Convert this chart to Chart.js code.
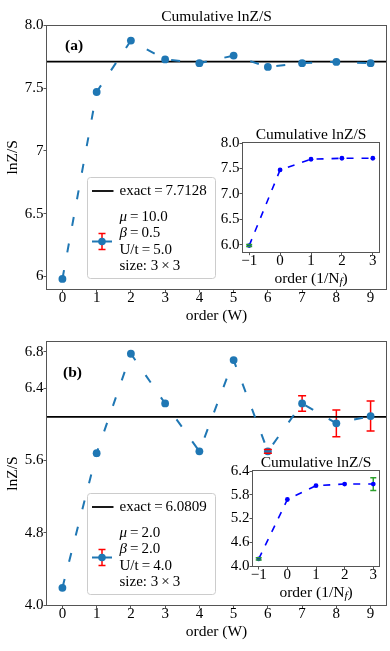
<!DOCTYPE html>
<html>
<head>
<meta charset="utf-8">
<script src="https://cdn.jsdelivr.net/npm/chart.js@4.4.1/dist/chart.umd.min.js"></script>
<style>
  html, body { margin: 0; padding: 0; background: #fff; }
  #wrap { position: relative; width: 390px; height: 651px; overflow: hidden; }
  canvas { position: absolute; }
</style>
</head>
<body>
<div id="wrap">
  <canvas id="mainA" width="390" height="325" style="left:0;top:0"></canvas>
  <canvas id="mainB" width="390" height="326" style="left:0;top:325px"></canvas>
  <canvas id="insetA" width="185" height="170" style="left:205px;top:120px"></canvas>
  <canvas id="insetB" width="180" height="160" style="left:210px;top:445px"></canvas>
</div>
<script>
// ---- data ----
const orders = [0, 1, 2, 3, 4, 5, 6, 7, 8, 9];
const lnzA = [5.98, 7.47, 7.88, 7.73, 7.70, 7.76, 7.67, 7.70, 7.71, 7.70];
const errA = [0, 0, 0, 0, 0, 0, 0, 0, 0, 0];
const exactA = 7.7128;

const lnzB = [4.19, 5.68, 6.78, 6.23, 5.70, 6.71, 5.70, 6.23, 6.01, 6.09];
const errB = [0, 0, 0, 0, 0, 0, 0.02, 0.085, 0.147, 0.166];
const exactB = 6.0809;

const insetOrders = [-1, 0, 1, 2, 3];
const insetA = [5.98, 7.47, 7.68, 7.70, 7.70];
const insetErrA = [0.02, 0, 0, 0, 0];
const insetB = [4.18, 5.68, 6.03, 6.07, 6.07];
const insetErrB = [0.03, 0, 0, 0, 0.16];

// ticks
const xTicksMain = [0, 1, 2, 3, 4, 5, 6, 7, 8, 9];
const yTicksA = [6, 6.5, 7, 7.5, 8];
const yTickLabelsA = ['6', '6.5', '7', '7.5', '8.0'];
const yTicksB = [4.0, 4.8, 5.6, 6.4, 6.8];
const xTicksInset = [-1, 0, 1, 2, 3];
const yTicksInsetA = [6.0, 6.5, 7.0, 7.5, 8.0];
const yTicksInsetB = [4.0, 4.6, 5.2, 5.8, 6.4];

// texts
const plotTitle = 'Cumulative lnZ/S';
const exactLabelA = 'exact\u2009=\u20097.7128';
const paramsA = ['μ\u2009=\u200910.0', 'β\u2009=\u20090.5', 'U/t\u2009=\u20095.0', 'size: 3\u2009×\u20093'];
const exactLabelB = 'exact\u2009=\u20096.0809';
const paramsB = ['μ\u2009=\u20092.0', 'β\u2009=\u20092.0', 'U/t\u2009=\u20094.0', 'size: 3\u2009×\u20093'];

const FONT = "'Liberation Serif', 'Times New Roman', serif";
const blue = '#1f77b4';
const spine = '#555';

function serif(size, style) {
  return (style ? style + ' ' : '') + size + 'px ' + FONT;
}

// ---- plugins ----
function drawErr(chart, caps) {
  const {ctx, scales: {x, y}} = chart;
  chart.data.datasets.forEach(ds => {
    if (!ds.errors) return;
    ctx.save();
    ctx.strokeStyle = ds.errColor;
    ctx.lineWidth = 1.5;
    ds.data.forEach((p, i) => {
      const e = ds.errors[i];
      if (!e) return;
      const px = x.getPixelForValue(p.x);
      const y1 = y.getPixelForValue(p.y + e);
      const y2 = y.getPixelForValue(p.y - e);
      ctx.beginPath();
      if (!caps) {
        ctx.moveTo(px, y1); ctx.lineTo(px, y2);
      } else {
        const h = ds.capHalf;
        ctx.moveTo(px - h, y1); ctx.lineTo(px + h, y1);
        ctx.moveTo(px - h, y2); ctx.lineTo(px + h, y2);
      }
      ctx.stroke();
    });
    ctx.restore();
  });
}

const errorBars = {
  id: 'errorBars',
  beforeDatasetsDraw(chart) { drawErr(chart, false); },
  afterDatasetsDraw(chart) { drawErr(chart, true); }
};

const frame = {
  id: 'frame',
  afterDatasetsDraw(chart) {
    const {ctx, chartArea: a} = chart;
    ctx.save();
    ctx.strokeStyle = spine;
    ctx.lineWidth = 1;
    const l = Math.round(a.left) - 0.5, t = Math.round(a.top) - 0.5;
    ctx.strokeRect(l, t, Math.round(a.right) - Math.round(a.left) + 1, Math.round(a.bottom) - Math.round(a.top) + 1);
    ctx.restore();
  }
};

const whiteBg = {
  id: 'whiteBg',
  beforeDraw(chart) {
    const {ctx, chartArea: a} = chart;
    ctx.save();
    ctx.fillStyle = '#fff';
    ctx.fillRect(a.left, a.top, a.right - a.left, a.bottom - a.top);
    ctx.restore();
  }
};

// title centred over the plot area (matplotlib style)
function areaTitle(text, dy) {
  return {
    id: 'areaTitle',
    afterDraw(chart) {
      const {ctx, chartArea: a} = chart;
      ctx.save();
      ctx.font = serif(15.5);
      ctx.fillStyle = '#000';
      ctx.textAlign = 'center';
      ctx.textBaseline = 'middle';
      ctx.fillText(text, (a.left + a.right) / 2, a.top - dy);
      ctx.restore();
    }
  };
}

function exactLine(value) {
  return {
    id: 'exactLine',
    beforeDatasetsDraw(chart) {
      const {ctx, chartArea: a, scales: {y}} = chart;
      const py = y.getPixelForValue(value);
      ctx.save();
      ctx.strokeStyle = '#000';
      ctx.lineWidth = 1.8;
      ctx.beginPath();
      ctx.moveTo(a.left, py); ctx.lineTo(a.right, py);
      ctx.stroke();
      ctx.restore();
    }
  };
}

function panelLabel(text, dx, dy) {
  return {
    id: 'panelLabel',
    afterDraw(chart) {
      const {ctx, chartArea: a} = chart;
      ctx.save();
      ctx.font = serif(15.5, 'bold');
      ctx.fillStyle = '#000';
      ctx.textBaseline = 'middle';
      ctx.textAlign = 'left';
      ctx.fillText(text, a.left + dx, a.top + dy);
      ctx.restore();
    }
  };
}

function drawMathLine(ctx, line, x, y) {
  let cx = x;
  const first = line[0];
  if (first === 'μ' || first === 'β') {
    ctx.font = serif(15, 'italic');
    ctx.fillText(first, cx, y);
    cx += ctx.measureText(first).width;
    line = line.slice(1);
  }
  ctx.font = serif(15);
  ctx.fillText(line, cx, y);
}

function legendBox(exactText, params) {
  return {
    id: 'legendBox',
    afterDraw(chart) {
      const {ctx, chartArea: a} = chart;
      const bx = a.left + 40.5, by = a.bottom - 111.5, bw = 128, bh = 101;
      ctx.save();
      ctx.beginPath();
      ctx.roundRect(bx, by, bw, bh, 3);
      ctx.fillStyle = 'rgba(255,255,255,0.8)';
      ctx.fill();
      ctx.strokeStyle = '#cccccc';
      ctx.lineWidth = 1;
      ctx.stroke();

      ctx.strokeStyle = '#000';
      ctx.lineWidth = 1.8;
      ctx.beginPath();
      ctx.moveTo(bx + 4.5, by + 13.5); ctx.lineTo(bx + 26, by + 13.5);
      ctx.stroke();

      ctx.fillStyle = '#000';
      ctx.textBaseline = 'middle';
      ctx.textAlign = 'left';
      ctx.font = serif(15);
      ctx.fillText(exactText, bx + 32, by + 13.5);
      params.forEach((line, i) => drawMathLine(ctx, line, bx + 32, by + 39.5 + i * 16.5));

      const mx = bx + 14.5, my = by + 64;
      ctx.strokeStyle = blue;
      ctx.lineWidth = 2;
      ctx.beginPath();
      ctx.moveTo(mx - 10, my); ctx.lineTo(mx + 10, my);
      ctx.stroke();
      ctx.strokeStyle = '#ff0000';
      ctx.lineWidth = 1.5;
      ctx.beginPath();
      ctx.moveTo(mx, my - 8); ctx.lineTo(mx, my + 8);
      ctx.moveTo(mx - 3.5, my - 8); ctx.lineTo(mx + 3.5, my - 8);
      ctx.moveTo(mx - 3.5, my + 8); ctx.lineTo(mx + 3.5, my + 8);
      ctx.stroke();
      ctx.fillStyle = blue;
      ctx.beginPath();
      ctx.arc(mx, my, 3.8, 0, Math.PI * 2);
      ctx.fill();
      ctx.restore();
    }
  };
}

const insetXTitle = {
  id: 'insetXTitle',
  afterDraw(chart) {
    const {ctx, chartArea: a} = chart;
    const parts = [
      {t: 'order (1/N', f: serif(15.5), dy: 0},
      {t: 'f', f: serif(11, 'italic'), dy: 3.5},
      {t: ')', f: serif(15.5), dy: 0}
    ];
    ctx.save();
    let total = 0;
    parts.forEach(p => { ctx.font = p.f; p.w = ctx.measureText(p.t).width; total += p.w; });
    let x = (a.left + a.right) / 2 - total / 2;
    const y = a.bottom + 27;
    ctx.fillStyle = '#000';
    ctx.textBaseline = 'middle';
    ctx.textAlign = 'left';
    parts.forEach(p => { ctx.font = p.f; ctx.fillText(p.t, x, y + p.dy); x += p.w; });
    ctx.restore();
  }
};

// ---- helpers ----
function scaleCfg(o) {
  return {
    type: 'linear',
    bounds: 'data',
    min: o.min,
    max: o.max,
    afterBuildTicks: s => { s.ticks = o.ticks.map(v => ({value: v})); },
    afterFit: s => {
      if (o.width !== undefined) s.width = o.width;
      if (o.height !== undefined) s.height = o.height;
    },
    border: {display: false},
    grid: {drawOnChartArea: false, drawTicks: true, tickLength: 3.5, color: spine, lineWidth: 1},
    ticks: {
      color: '#000',
      font: {family: FONT, size: 15, lineHeight: 0.8},
      padding: 0,
      maxRotation: 0,
      autoSkip: false,
      callback: o.fmt
    },
    title: o.title
      ? {display: true, text: o.title, color: '#000', font: {family: FONT, size: 15.5, lineHeight: 1.2}, padding: o.titlePad}
      : {display: false}
  };
}

const minusFmt = v => String(v).replace('-', '\u2212');

function mainChart(id, o) {
  const plugins = [errorBars, exactLine(o.exact), frame, legendBox(o.exactLabel, o.params), panelLabel(o.label, o.labelDx, o.labelDy)];
  if (o.showTitle) plugins.push(areaTitle(plotTitle, 9));
  return new Chart(document.getElementById(id), {
    type: 'line',
    data: {
      datasets: [{
        data: orders.map((x, i) => ({x: x, y: o.values[i]})),
        borderColor: blue,
        backgroundColor: blue,
        borderWidth: 2,
        borderDash: [9, 18],
        pointRadius: 3.9,
        pointBackgroundColor: blue,
        pointBorderColor: blue,
        pointBorderWidth: 0,
        tension: 0,
        fill: false,
        errors: o.errors,
        errColor: '#ff0000',
        capHalf: 4
      }]
    },
    options: {
      responsive: false,
      animation: false,
      events: [],
      layout: {padding: o.padding},
      plugins: {
        legend: {display: false},
        tooltip: {enabled: false},
        title: {display: false}
      },
      scales: {
        x: scaleCfg({min: -0.45, max: 9.45, ticks: xTicksMain, height: o.xh,
          title: 'order (W)', titlePad: {top: 0, bottom: o.xTitlePad}}),
        y: scaleCfg({min: o.ymin, max: o.ymax, ticks: o.yTicks, width: 47, fmt: o.yFmt,
          title: 'lnZ/S', titlePad: {top: 4, bottom: 0}})
      }
    },
    plugins: plugins
  });
}

function insetChart(id, o) {
  return new Chart(document.getElementById(id), {
    type: 'line',
    data: {
      datasets: [{
        data: insetOrders.map((x, i) => ({x: x, y: o.values[i]})),
        borderColor: '#0000ff',
        backgroundColor: '#0000ff',
        borderWidth: 1.6,
        borderDash: [7, 8],
        pointRadius: 2.4,
        pointBackgroundColor: '#0000ff',
        pointBorderWidth: 0,
        tension: 0,
        fill: false,
        errors: o.errors,
        errColor: '#2ca02c',
        capHalf: 3
      }]
    },
    options: {
      responsive: false,
      animation: false,
      events: [],
      layout: {padding: {top: o.top, left: 0, right: 11, bottom: 0}},
      plugins: {
        legend: {display: false},
        tooltip: {enabled: false},
        title: {display: false}
      },
      scales: {
        x: scaleCfg({min: -1.2, max: 3.2, ticks: xTicksInset, height: o.xh, fmt: minusFmt}),
        y: scaleCfg({min: o.ymin, max: o.ymax, ticks: o.yTicks, width: o.yw, fmt: v => v.toFixed(1)})
      }
    },
    plugins: [whiteBg, errorBars, frame, insetXTitle, areaTitle(plotTitle, o.titleDy)]
  });
}

// ---- charts ----
mainChart('mainA', {
  values: lnzA, errors: errA, exact: exactA,
  ymin: 5.9, ymax: 8.0, yTicks: yTicksA, yFmt: (v, i) => yTickLabelsA[i],
  padding: {top: 25.5, left: 0, right: 3, bottom: 0}, xh: 36, xTitlePad: 0,
  showTitle: true, exactLabel: exactLabelA, params: paramsA,
  label: '(a)', labelDx: 18, labelDy: 20
});

mainChart('mainB', {
  values: lnzB, errors: errB, exact: exactB,
  ymin: 4.0, ymax: 6.91, yTicks: yTicksB, yFmt: v => v.toFixed(1),
  padding: {top: 17, left: 0, right: 3, bottom: 0}, xh: 46, xTitlePad: 10,
  showTitle: false, exactLabel: exactLabelB, params: paramsB,
  label: '(b)', labelDx: 16, labelDy: 31
});

insetChart('insetA', {
  values: insetA, errors: insetErrA, ymin: 5.86, ymax: 8.0, yTicks: yTicksInsetA,
  yw: 38, xh: 38.3, top: 23, titleDy: 8.5
});

insetChart('insetB', {
  values: insetB, errors: insetErrB, ymin: 4.0, ymax: 6.4, yTicks: yTicksInsetB,
  yw: 43, xh: 39, top: 26, titleDy: 8
});
</script>
</body>
</html>
